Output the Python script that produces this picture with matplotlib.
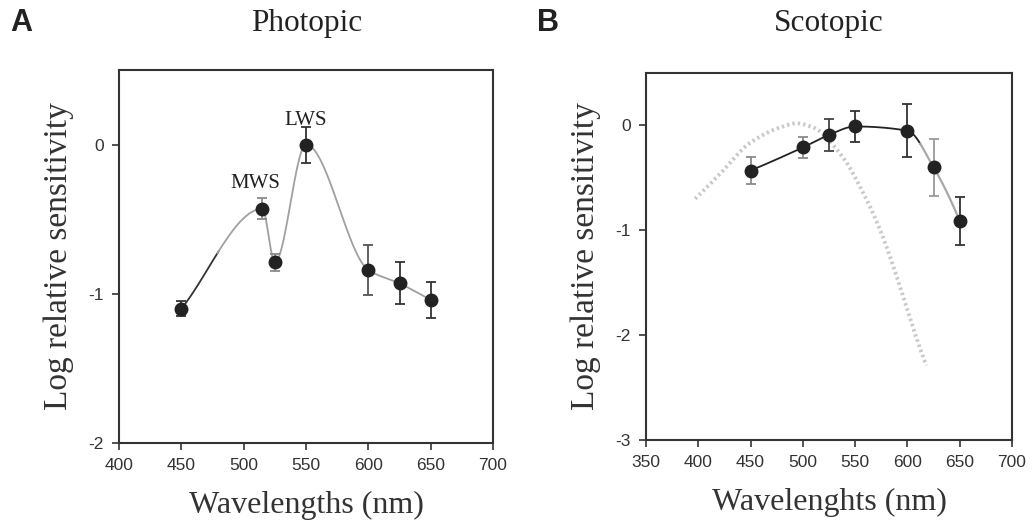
import numpy as np
import matplotlib
matplotlib.use("Agg")
import matplotlib.pyplot as plt

plt.rcParams['axes.unicode_minus'] = False

# ---------------- data ----------------
# Panel A (photopic)
phot_wl = [450, 515, 525, 550, 600, 625, 650]
phot_sens = [-1.10, -0.43, -0.79, 0.00, -0.84, -0.93, -1.04]
phot_err = [0.05, 0.07, 0.06, 0.12, 0.17, 0.14, 0.12]

# Panel B (scotopic)
scot_wl = [450, 500, 525, 550, 600, 625, 650]
scot_sens = [-0.43, -0.21, -0.09, -0.01, -0.05, -0.40, -0.91]
scot_err = [0.13, 0.10, 0.15, 0.15, 0.25, 0.27, 0.23]

# Dotted template curve in panel B
rod_wl = [397, 421, 449, 478, 494, 510, 538, 558, 574, 593, 606, 618]
rod_sens = [-0.70, -0.46, -0.17, -0.02, 0.02, -0.02, -0.30, -0.65, -1.00, -1.54, -1.95, -2.29]

phot_xticks = [400, 450, 500, 550, 600, 650, 700]
phot_yticks = [-2, -1, 0]
scot_xticks = [350, 400, 450, 500, 550, 600, 650, 700]
scot_yticks = [-3, -2, -1, 0]

# styling (error-bar shades mimic the print)
phot_ecol = ['#333333', '#8a8a8a', '#8a8a8a', '#333333', '#555555', '#333333', '#333333']
scot_ecol = ['#8a8a8a', '#8a8a8a', '#444444', '#333333', '#333333', '#9a9a9a', '#333333']


def pchip(x, y, xs, secant_ends=False):
    x = np.asarray(x, float)
    y = np.asarray(y, float)
    h = np.diff(x)
    d = np.diff(y) / h
    n = len(x)
    m = np.zeros(n)
    for k in range(1, n - 1):
        if d[k - 1] * d[k] <= 0:
            m[k] = 0.0
        else:
            w1 = 2 * h[k] + h[k - 1]
            w2 = h[k] + 2 * h[k - 1]
            m[k] = (w1 + w2) / (w1 / d[k - 1] + w2 / d[k])

    def endslope(h0, h1, d0, d1):
        s = ((2 * h0 + h1) * d0 - h0 * d1) / (h0 + h1)
        if np.sign(s) != np.sign(d0):
            s = 0.0
        elif np.sign(d0) != np.sign(d1) and abs(s) > abs(3 * d0):
            s = 3 * d0
        return s

    if secant_ends:
        m[0] = d[0]
        m[-1] = d[-1]
    else:
        m[0] = endslope(h[0], h[1], d[0], d[1])
        m[-1] = endslope(h[-1], h[-2], d[-1], d[-2])
    xs = np.asarray(xs, float)
    idx = np.clip(np.searchsorted(x, xs) - 1, 0, n - 2)
    t = (xs - x[idx]) / h[idx]
    h00 = 2 * t**3 - 3 * t**2 + 1
    h10 = t**3 - 2 * t**2 + t
    h01 = -2 * t**3 + 3 * t**2
    h11 = t**3 - t**2
    return (h00 * y[idx] + h10 * h[idx] * m[idx] + h01 * y[idx + 1]
            + h11 * h[idx] * m[idx + 1])


W, H = 1035, 527
fig = plt.figure(figsize=(W / 100, H / 100), dpi=100)

serif = 'Liberation Serif'
sans = 'Liberation Sans'

axA = fig.add_axes([119 / W, 1 - 443 / H, (493 - 119) / W, (443 - 70) / H])
axB = fig.add_axes([646 / W, 1 - 440 / H, (1012 - 646) / W, (440 - 73) / H])


def style(ax, xt, yt, xlim, ylim):
    ax.set_xlim(*xlim)
    ax.set_ylim(*ylim)
    ax.set_xticks(xt)
    ax.set_yticks(yt)
    ax.set_xticklabels([str(v) for v in xt], fontfamily=sans, fontsize=12.5, color='#333333')
    ax.set_yticklabels([str(v) for v in yt], fontfamily=sans, fontsize=12.5, color='#333333')
    for s in ax.spines.values():
        s.set_color('#333333')
        s.set_linewidth(1.5)
    ax.tick_params(direction='out', length=5, width=1.2, color='#333333', pad=6)


# ---- Panel A ----
style(axA, phot_xticks, phot_yticks, (400, 700), (-2, 0.5))
xs = np.linspace(phot_wl[0], phot_wl[-1], 600)
ys = pchip(phot_wl, phot_sens, xs, secant_ends=True)
dark = xs <= 480
axA.plot(xs[dark], ys[dark], color='#333333', lw=1.3, zorder=2)
axA.plot(xs[xs >= 479], ys[xs >= 479], color='#a0a0a0', lw=1.3, zorder=2)
for xv, yv, ev, c in zip(phot_wl, phot_sens, phot_err, phot_ecol):
    axA.errorbar(xv, yv, yerr=ev, fmt='none', ecolor=c, elinewidth=1.3, capsize=3.5, capthick=1.3, zorder=3)
axA.plot(phot_wl, phot_sens, 'o', color='#222222', markersize=9, zorder=4)
axA.text(509, -0.26, 'MWS', fontfamily=serif, fontsize=15, ha='center', va='center', color='#222222')
axA.text(550, 0.16, 'LWS', fontfamily=serif, fontsize=15, ha='center', va='center', color='#222222')
axA.set_xlabel('Wavelengths (nm)', fontfamily=serif, fontsize=23, color='#333333', labelpad=13)
axA.set_ylabel('Log relative sensitivity', fontfamily=serif, fontsize=24, color='#333333', labelpad=10)

# ---- Panel B ----
style(axB, scot_xticks, scot_yticks, (350, 700), (-3, 0.5))
xr = np.linspace(rod_wl[0], rod_wl[-1], 400)
axB.plot(xr, pchip(rod_wl, rod_sens, xr), color='#c8c8c8', lw=2.8,
         linestyle=(0, (0.6, 0.8)), zorder=1)
xs = np.linspace(scot_wl[0], scot_wl[-1], 600)
ys = pchip(scot_wl, scot_sens, xs)
axB.plot(xs[xs <= 613], ys[xs <= 613], color='#222222', lw=1.3, zorder=2)
axB.plot(xs[xs >= 612], ys[xs >= 612], color='#a8a8a8', lw=1.6, zorder=2)
for xv, yv, ev, c in zip(scot_wl, scot_sens, scot_err, scot_ecol):
    axB.errorbar(xv, yv, yerr=ev, fmt='none', ecolor=c, elinewidth=1.3, capsize=3.5, capthick=1.3, zorder=3)
axB.plot(scot_wl, scot_sens, 'o', color='#222222', markersize=9, zorder=4)
axB.set_xlabel('Wavelenghts (nm)', fontfamily=serif, fontsize=23, color='#333333', labelpad=13)
axB.set_ylabel('Log relative sensitivity', fontfamily=serif, fontsize=24, color='#333333', labelpad=10)

# titles and panel letters
fig.text(307 / W, 1 - 24 / H, 'Photopic', fontfamily=serif, fontsize=22.5, ha='center', va='center', color='#222222')
fig.text(829 / W, 1 - 24 / H, 'Scotopic', fontfamily=serif, fontsize=22.5, ha='center', va='center', color='#222222')
fig.text(10 / W, 1 - 8 / H, 'A', fontfamily=sans, fontweight='bold', fontsize=22, ha='left', va='top', color='#222222')
fig.text(537 / W, 1 - 8 / H, 'B', fontfamily=sans, fontweight='bold', fontsize=22, ha='left', va='top', color='#222222')

fig.savefig('out.png', dpi=100)
